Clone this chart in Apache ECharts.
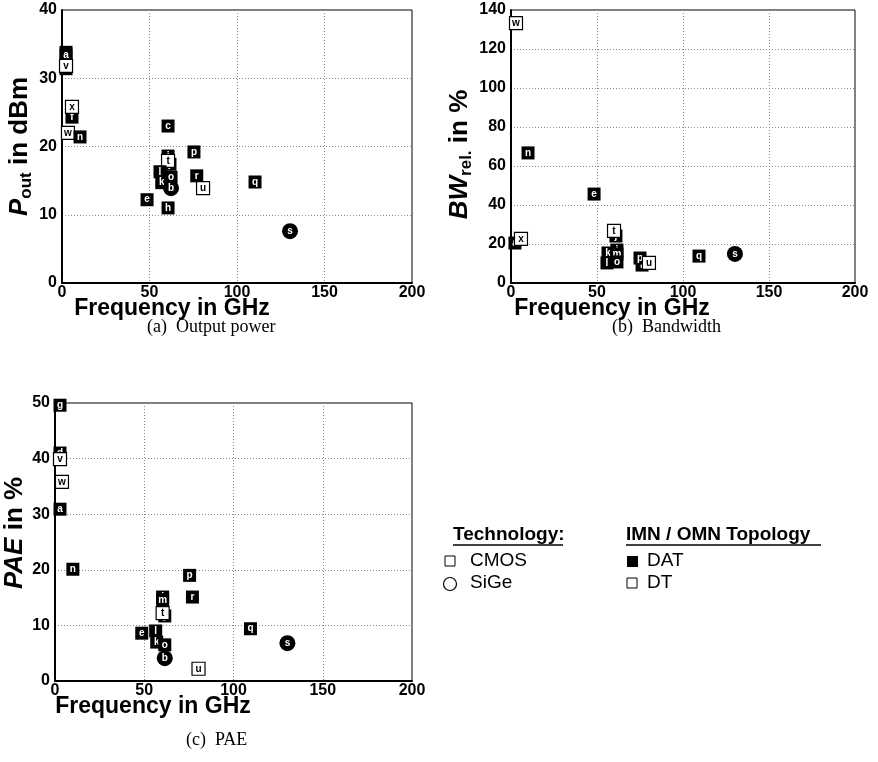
<!DOCTYPE html>
<html><head><meta charset="utf-8">
<script src="https://cdn.jsdelivr.net/npm/echarts@6/dist/echarts.min.js"></script>
<style>html,body{margin:0;padding:0;background:#fff}#c{width:878px;height:762px}</style>
</head><body><div id="c"></div>
<script>
// Marker kinds (by label)
const dtLabels = ['v', 'w', 'x', 't', 'u'];      // DT topology: white squares
const sigeLabels = ['b', 's'];                    // SiGe technology: circles

// Axis ticks
const freqTicks = [0, 50, 100, 150, 200];
const poutTicks = [0, 10, 20, 30, 40];
const bwTicks = [0, 20, 40, 60, 80, 100, 120, 140];
const paeTicks = [0, 10, 20, 30, 40, 50];

// (a) Output power
const labelsA = ['g','a','d','v','f','x','w','n','c','i','j','t','p','l','k','o','b','r','u','e','h','q','s'];
const freqA  = [2.3,2.3,2.3,2.3,5.7,5.7,3.4,10.3,60.6,60.6,61.7,60.6,75.4,56,57,62.3,62.3,77,80.6,48.6,60.6,110.3,130.3];
const poutA  = [33.8,33.4,31.4,31.8,24.3,25.8,22,21.4,23,18.6,17.4,17.9,19.2,16.3,14.7,15.5,13.9,15.7,13.9,12.2,11,14.8,7.6];

// (b) Bandwidth
const labelsB = ['a','x','w','n','e','j','t','k','i','m','l','o','r','p','u','q','s'];
const freqB  = [2.3,5.8,2.9,9.9,48.3,61,59.9,56.4,61.6,61.6,55.8,61.6,76.2,75,80.2,109.3,130.2];
const bwB    = [20.5,22.6,133.3,66.7,45.6,24.1,26.7,15.4,16.9,14.9,10.3,10.8,9.2,12.8,10.3,13.8,14.9];

// (c) PAE
const labelsC = ['d','v','g','w','a','n','p','r','i','m','j','t','e','l','q','k','b','o','s','u'];
const freqC  = [2.8,2.8,2.8,3.9,2.8,10,75.4,77,60.3,60.3,61.5,60.3,48.6,56.4,109.5,57,61.5,61.5,130.2,80.4];
const paeC   = [41,39.9,49.6,35.8,30.9,20.1,19,15.1,15.1,14.6,11.7,12.2,8.6,9,9.4,7,4.1,6.5,6.8,2.2];

const FONT = 'Liberation Sans, Arial, Helvetica, sans-serif';
const SERIF = 'Liberation Serif, Times New Roman, serif';

function buildSeries(labels, xs, ys, gi) {
  return labels.map((lab, i) => {
    const isDT = dtLabels.includes(lab), isSiGe = sigeLabels.includes(lab);
    return {
      type: 'scatter', xAxisIndex: gi, yAxisIndex: gi, z: 10 + i, silent: true,
      symbol: isSiGe ? 'circle' : 'rect', symbolSize: isSiGe ? 16 : 13,
      itemStyle: { color: isDT ? '#fff' : '#000', borderColor: '#000', borderWidth: isDT ? 1.2 : 0, opacity: 1 },
      label: { show: true, position: 'inside', formatter: lab, color: isDT ? '#000' : '#fff',
               fontSize: 10, fontWeight: 'bold', fontFamily: FONT },
      emphasis: { disabled: true },
      data: [[xs[i], ys[i]]]
    };
  });
}

function xAx(gi, padRight) {
  return {
    type: 'value', gridIndex: gi, min: freqTicks[0], max: freqTicks[freqTicks.length - 1],
    interval: freqTicks[1] - freqTicks[0],
    axisLine: { show: true, onZero: false, lineStyle: { color: '#000', width: 2 } },
    axisTick: { show: false },
    axisLabel: { color: '#000', fontSize: 16, fontWeight: 'bold', fontFamily: FONT, margin: 2 },
    splitLine: { show: true, lineStyle: { color: '#888', type: [1, 2], width: 1 } },
    name: 'Frequency in GHz', nameLocation: 'middle', nameGap: 14, nameMoveOverlap: false,
    nameTextStyle: { color: '#000', fontSize: 23, fontWeight: 'bold', fontFamily: FONT, lineHeight: 23,
                     padding: [0, padRight, 0, 0] }
  };
}
function yAx(gi, ticks, name, gap, pad) {
  return {
    type: 'value', gridIndex: gi, min: ticks[0], max: ticks[ticks.length - 1], interval: ticks[1] - ticks[0],
    axisLine: { show: true, onZero: false, lineStyle: { color: '#000', width: 2 } },
    axisTick: { show: false },
    axisLabel: { color: '#000', fontSize: 16, fontWeight: 'bold', fontFamily: FONT, margin: 5 },
    splitLine: { show: true, lineStyle: { color: '#888', type: [1, 2], width: 1 } },
    name: name, nameLocation: 'middle', nameRotate: 90, nameGap: gap, nameMoveOverlap: false,
    nameTextStyle: {
      color: '#000', fontFamily: FONT, padding: pad,
      rich: {
        i: { fontStyle: 'italic', fontWeight: 'bold', fontSize: 26, lineHeight: 28, fontFamily: FONT, color: '#000' },
        s: { fontWeight: 'bold', fontSize: 17, lineHeight: 18, padding: [12, 0, 0, 0], fontFamily: FONT, color: '#000' },
        n: { fontWeight: 'bold', fontSize: 26, lineHeight: 28, fontFamily: FONT, color: '#000' }
      }
    }
  };
}

const gridBase = { show: true, borderColor: '#000', borderWidth: 1, backgroundColor: 'transparent', containLabel: false };

const option = {
  animation: false,
  backgroundColor: '#fff',
  grid: [
    Object.assign({ left: 62, top: 10, width: 350, height: 273 }, gridBase),
    Object.assign({ left: 511, top: 10, width: 344, height: 273 }, gridBase),
    Object.assign({ left: 55, top: 403, width: 357, height: 278 }, gridBase)
  ],
  xAxis: [xAx(0, 130), xAx(1, 142), xAx(2, 161)],
  yAxis: [
    yAx(0, poutTicks, '{i|P}{s|out}{n| in dBm}', 28, [0, 0, 0, 0]),
    yAx(1, bwTicks, '{i|BW}{s|rel.}{n| in %}', 37, [0, 16, 0, 0]),
    yAx(2, paeTicks, '{i|PAE}{n| in %}', 26, [0, 0, 0, 18])
  ],
  series: [].concat(
    buildSeries(labelsA, freqA, poutA, 0),
    buildSeries(labelsB, freqB, bwB, 1),
    buildSeries(labelsC, freqC, paeC, 2)
  ),
  graphic: [
    { type: 'text', left: 147, top: 318, silent: true, style: { text: '(a)  Output power', fill: '#000', font: '18px ' + SERIF } },
    { type: 'text', left: 612, top: 318, silent: true, style: { text: '(b)  Bandwidth', fill: '#000', font: '18px ' + SERIF } },
    { type: 'text', left: 186, top: 731, silent: true, style: { text: '(c)  PAE', fill: '#000', font: '18px ' + SERIF } },
    // legend: technology
    { type: 'text', left: 453, top: 525, silent: true, style: { text: 'Technology:', fill: '#000', font: 'bold 19px ' + FONT } },
    { type: 'line', silent: true, shape: { x1: 453, y1: 545, x2: 563, y2: 545 }, style: { stroke: '#000', lineWidth: 1.5 } },
    { type: 'rect', silent: true, shape: { x: 445, y: 556, width: 10, height: 10 }, style: { fill: '#fff', stroke: '#000', lineWidth: 1 } },
    { type: 'text', left: 470, top: 551, silent: true, style: { text: 'CMOS', fill: '#000', font: '19px ' + FONT } },
    { type: 'circle', silent: true, shape: { cx: 450, cy: 584, r: 6.5 }, style: { fill: '#fff', stroke: '#000', lineWidth: 1.2 } },
    { type: 'text', left: 470, top: 573, silent: true, style: { text: 'SiGe', fill: '#000', font: '19px ' + FONT } },
    // legend: topology
    { type: 'text', left: 626, top: 525, silent: true, style: { text: 'IMN / OMN Topology', fill: '#000', font: 'bold 19px ' + FONT } },
    { type: 'line', silent: true, shape: { x1: 626, y1: 545, x2: 821, y2: 545 }, style: { stroke: '#000', lineWidth: 1.5 } },
    { type: 'rect', silent: true, shape: { x: 627, y: 556, width: 11, height: 11 }, style: { fill: '#000', stroke: '#000', lineWidth: 0 } },
    { type: 'text', left: 647, top: 551, silent: true, style: { text: 'DAT', fill: '#000', font: '19px ' + FONT } },
    { type: 'rect', silent: true, shape: { x: 627, y: 578, width: 10, height: 10 }, style: { fill: '#fff', stroke: '#000', lineWidth: 1 } },
    { type: 'text', left: 647, top: 573, silent: true, style: { text: 'DT', fill: '#000', font: '19px ' + FONT } }
  ]
};

const chart = echarts.init(document.getElementById('c'), null, { renderer: 'canvas' });
chart.setOption(option);
</script>
</body></html>
